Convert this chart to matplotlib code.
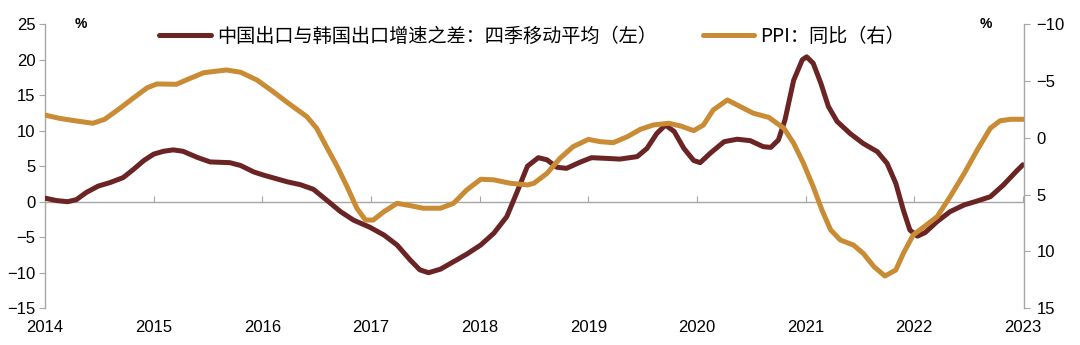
import numpy as np
import matplotlib
matplotlib.use("Agg")
import matplotlib.pyplot as plt

plt.rcParams['font.family'] = ['Liberation Sans', 'Noto Sans CJK SC', 'DejaVu Sans']
plt.rcParams['axes.unicode_minus'] = True

# 中国出口与韩国出口增速之差:四季移动平均 (left axis)
diff_t = [2014.00, 2014.11, 2014.21, 2014.29, 2014.38, 2014.49, 2014.60, 2014.72, 2014.81, 2014.91,
          2015.00, 2015.09, 2015.18, 2015.27, 2015.40, 2015.52, 2015.70, 2015.80, 2015.92, 2016.01,
          2016.23, 2016.35, 2016.47, 2016.59, 2016.72, 2016.84, 2016.99, 2017.12, 2017.24, 2017.36,
          2017.45, 2017.53, 2017.64, 2017.76, 2017.88, 2018.01, 2018.13, 2018.25, 2018.34, 2018.44,
          2018.54, 2018.62, 2018.71, 2018.80, 2018.93, 2019.03, 2019.17, 2019.29, 2019.45, 2019.54,
          2019.63, 2019.71, 2019.79, 2019.88, 2019.97, 2020.03, 2020.12, 2020.25, 2020.37, 2020.49,
          2020.61, 2020.68, 2020.75, 2020.81, 2020.89, 2020.97, 2021.01, 2021.07, 2021.14, 2021.21,
          2021.29, 2021.41, 2021.53, 2021.66, 2021.75, 2021.83, 2021.90, 2021.96, 2022.03, 2022.10,
          2022.21, 2022.33, 2022.46, 2022.58, 2022.70, 2022.82, 2022.95, 2023.00]
diff_v = [0.5, 0.15, 0.0, 0.3, 1.3, 2.2, 2.7, 3.4, 4.5, 5.8,
          6.7, 7.1, 7.3, 7.1, 6.25, 5.6, 5.5, 5.1, 4.2, 3.75,
          2.8, 2.4, 1.75, 0.25, -1.4, -2.6, -3.6, -4.7, -6.1, -8.2,
          -9.6, -10.0, -9.5, -8.45, -7.4, -6.1, -4.45, -2.1, 1.2, 5.0,
          6.2, 5.9, 4.85, 4.7, 5.6, 6.2, 6.1, 6.0, 6.35, 7.5,
          9.6, 10.8, 9.9, 7.5, 5.8, 5.5, 6.8, 8.45, 8.8, 8.6,
          7.75, 7.65, 8.7, 11.5, 17.1, 20.0, 20.4, 19.5, 16.7, 13.4,
          11.3, 9.6, 8.2, 7.05, 5.4, 2.6, -1.2, -4.0, -4.85, -4.35,
          -2.8, -1.4, -0.45, 0.1, 0.7, 2.35, 4.45, 5.2]

# PPI:同比 (right axis, inverted)
ppi_t = [2014.00, 2014.14, 2014.29, 2014.44, 2014.55, 2014.69, 2014.81, 2014.94, 2015.03, 2015.21,
         2015.30, 2015.46, 2015.67, 2015.80, 2015.95, 2016.10, 2016.24, 2016.41, 2016.50, 2016.59,
         2016.69, 2016.78, 2016.87, 2016.95, 2017.02, 2017.12, 2017.24, 2017.36, 2017.48, 2017.64,
         2017.76, 2017.88, 2018.01, 2018.13, 2018.28, 2018.44, 2018.50, 2018.62, 2018.74, 2018.86,
         2019.00, 2019.11, 2019.23, 2019.36, 2019.48, 2019.60, 2019.74, 2019.85, 2019.97, 2020.06,
         2020.15, 2020.28, 2020.40, 2020.52, 2020.66, 2020.80, 2020.89, 2020.98, 2021.07, 2021.15,
         2021.23, 2021.32, 2021.44, 2021.53, 2021.63, 2021.73, 2021.83, 2021.90, 2021.99, 2022.09,
         2022.21, 2022.33, 2022.46, 2022.58, 2022.70, 2022.79, 2022.89, 2023.01]
ppi_v = [-2.0, -1.7, -1.48, -1.28, -1.63, -2.6, -3.48, -4.4, -4.74, -4.71,
         -5.09, -5.73, -5.97, -5.77, -5.09, -4.06, -3.04, -1.86, -0.84, 0.78,
         2.54, 4.3, 6.2, 7.24, 7.24, 6.5, 5.77, 5.97, 6.2, 6.2,
         5.77, 4.6, 3.65, 3.7, 4.0, 4.15, 4.0, 3.13, 1.8, 0.78,
         0.14, 0.34, 0.43, -0.1, -0.75, -1.13, -1.28, -1.04, -0.63, -1.13,
         -2.45, -3.33, -2.74, -2.16, -1.8, -0.84, 0.48, 2.24, 4.3, 6.35,
         8.1, 9.0, 9.44, 10.17, 11.35, 12.17, 11.64, 10.17, 8.56, 7.83,
         6.95, 5.19, 3.13, 1.07, -0.84, -1.5, -1.63, -1.63]

years = list(range(2014, 2024))
left_ticks = [25, 20, 15, 10, 5, 0, -5, -10, -15]
right_ticks = [-10, -5, 0, 5, 10, 15]

dark = '#6B2424'
gold = '#C98B33'
grey = '#A6A6A6'

fig = plt.figure(figsize=(10.8, 3.45), dpi=100)
ax = fig.add_axes([45/1080, 1 - 308.2/345, (1024 - 45)/1080, 284/345])
ax2 = ax.twinx()

l1, = ax.plot(diff_t, diff_v, color=dark, lw=3.6, solid_capstyle='round',
              solid_joinstyle='round', zorder=3,
              label='中国出口与韩国出口增速之差：四季移动平均（左）')
l2, = ax2.plot(ppi_t, ppi_v, color=gold, lw=3.6, solid_capstyle='round',
               solid_joinstyle='round', zorder=3,
               label='PPI：同比（右）')

ax.set_xlim(2014, 2023.01)
ax.set_ylim(-15, 25)
ax2.set_ylim(15, -10)

ax.set_yticks(left_ticks)
ax2.set_yticks(right_ticks)
ax.set_xticks(years)
ax.set_xticklabels([str(y) for y in years])

for a in (ax, ax2):
    a.spines['top'].set_visible(False)
    for s in a.spines.values():
        s.set_color(grey)
        s.set_linewidth(1.0)
ax.spines['right'].set_visible(False)
ax2.spines['left'].set_visible(False)
ax2.spines['bottom'].set_visible(False)
ax.spines['bottom'].set_position(('data', 0))

ax.tick_params(axis='y', direction='out', length=4, color=grey, labelsize=12, pad=3)
ax2.tick_params(axis='y', direction='out', length=4, color=grey, labelsize=12, pad=5)
ax.tick_params(axis='x', direction='in', length=4, color=grey, labelsize=12, pad=85)

fig.text(81/1080, 1 - 24/345, '%', fontsize=10, fontweight='bold', ha='center', va='center')
fig.text(986/1080, 1 - 24/345, '%', fontsize=10, fontweight='bold', ha='center', va='center')

fig.legend(handles=[l1, l2], loc='center', bbox_to_anchor=(532/1080, 1 - 36/345), ncol=2,
           frameon=False, prop={'family': ['Noto Sans CJK SC'], 'size': 13.8},
           handlelength=2.7, handletextpad=0.3, columnspacing=2.4, borderaxespad=0)

fig.savefig('out.png', dpi=100)
